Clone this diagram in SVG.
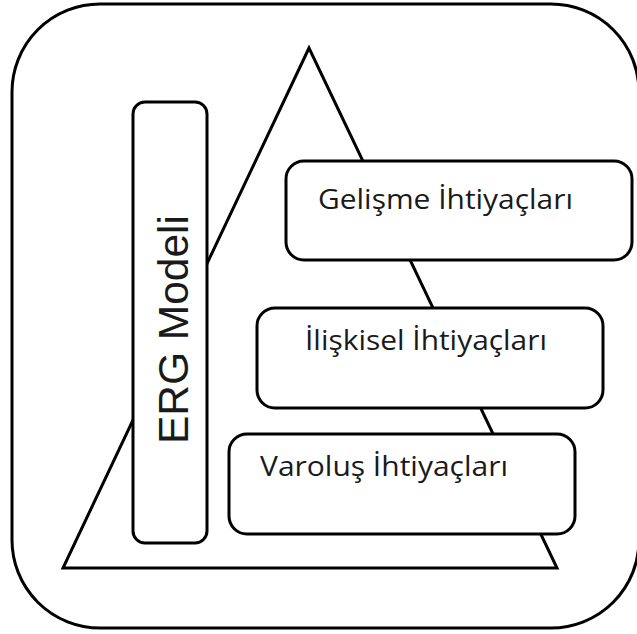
<svg xmlns="http://www.w3.org/2000/svg" width="637" height="634" viewBox="0 0 637 634">
<style>
.shape{fill:#fff;stroke:#000;stroke-width:3}
.line{fill:none;stroke:#000;stroke-width:3}
.lbl{font-family:"Open Sans","Noto Sans","Liberation Sans",sans-serif;font-size:28px;fill:#1a1a1a}
.erg{font-family:"Liberation Sans",Arial,sans-serif;font-size:42px;fill:#1a1a1a}
</style>
<rect x="0" y="0" width="637" height="634" fill="#fff"/>
<g id="frame">
<rect class="shape" x="12" y="4" width="627" height="624" rx="88" ry="88"/>
</g>
<g id="connectors">
<polygon class="line" points="309,48 63,568 557,568"/>
</g>
<g id="erg-modeli">
<rect class="shape" x="133" y="102" width="74" height="441" rx="12" ry="12"/>
<text class="erg" transform="translate(188,444) rotate(-90)" textLength="229" lengthAdjust="spacingAndGlyphs">ERG Modeli</text>
</g>
<g id="gelisme">
<rect class="shape" x="286" y="161" width="346" height="99" rx="18" ry="18"/>
<text class="lbl" x="318" y="209" textLength="255" lengthAdjust="spacingAndGlyphs">Gelişme İhtiyaçları</text>
</g>
<g id="iliskisel">
<rect class="shape" x="257" y="308" width="346" height="100" rx="18" ry="18"/>
<text class="lbl" x="305" y="350" textLength="242" lengthAdjust="spacingAndGlyphs">İlişkisel İhtiyaçları</text>
</g>
<g id="varolus">
<rect class="shape" x="229" y="434" width="346" height="100" rx="18" ry="18"/>
<text class="lbl" x="260" y="476" textLength="248" lengthAdjust="spacingAndGlyphs">Varoluş İhtiyaçları</text>
</g>
</svg>
